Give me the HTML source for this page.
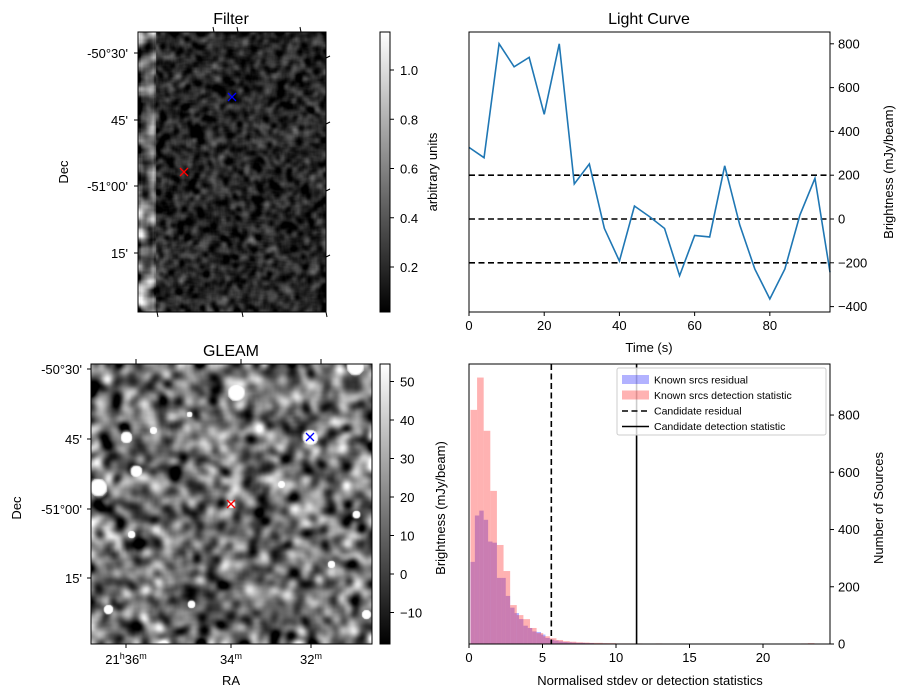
<!DOCTYPE html>
<html><head><meta charset="utf-8">
<style>
body{margin:0;background:#fff;}
#root{position:relative;width:907px;height:699px;overflow:hidden;font-family:"Liberation Sans","DejaVu Sans",sans-serif;}
svg{position:absolute;left:0;top:0;}
canvas{position:absolute;}
text{font-family:"Liberation Sans","DejaVu Sans",sans-serif;font-size:13px;fill:#000;}
</style></head>
<body>
<div id="root">
<canvas id="filterImg" width="188" height="280" style="left:138px;top:32px"></canvas>
<canvas id="gleamImg" width="281" height="280" style="left:91px;top:364px"></canvas>
<svg id="chart" width="907" height="699">
<defs>
<linearGradient id="gray1" x1="0" y1="1" x2="0" y2="0"><stop offset="0" stop-color="#000"/><stop offset="1" stop-color="#fff"/></linearGradient>
</defs>
</svg>
</div>
<script>
// ---- data ----
const lcTimes = [0,4,8,12,16,20,24,28,32,36,40,44,48,52,56,60,64,68,72,76,80,84,88,92,96];
const lcValues = [327,280,800,695,738,478,800,160,251,-43,-192,59,11,-43,-259,-75,-82,243,-27,-228,-365,-228,18,186,-243];
const lcThresholds = [200,0,-200];
const lcYTicks = [800,600,400,200,0,-200,-400];
const lcXTicks = [0,20,40,60,80];
const redBinStart = 0.1, redBinWidth = 0.45;
const redCounts = [818,931,745,535,346,255,136,101,87,56,38,27,20,14,10,8,6,5,4,4,3,3,2,2,2,2,1,1,2,1,1,1,1,1,1,0,1,1,0,1,0,1,0,1,0,0,1,0,0,1,2,3];
const blueBinStart = 0.1, blueBinWidth = 0.3;
const blueCounts = [287,449,466,434,358,354,231,231,168,127,108,87,64,56,44,42,33,21,15,12,9,7,6,5,4,4,3,3,2,2,2,1,1,1,1,1,1,1,0,1,0,0,1,0,0,1];
const histXTicks = [0,5,10,15,20];
const histYTicks = [0,200,400,600,800];
const candidateResidual = 5.6;
const candidateDetection = 11.4;
const filterCbTicks = [0.2,0.4,0.6,0.8,1.0];
const gleamCbTicks = [-10,0,10,20,30,40,50];

const NS="http://www.w3.org/2000/svg";
const svg=document.getElementById('chart');
function el(tag,attrs,parent){const e=document.createElementNS(NS,tag);for(const k in attrs)e.setAttribute(k,attrs[k]);(parent||svg).appendChild(e);return e;}
function txt(x,y,s,anchor,extra){const t=el('text',Object.assign({x:x,y:y,'text-anchor':anchor||'middle'},extra||{}));t.textContent=s;return t;}

// ---- light curve ----
const lcX=t=>469+t*(830-469)/96;
const lcY=v=>219-v*0.2190;
let g=el('g',{});


lcThresholds.forEach(v=>{const l=el('line',{x1:469,x2:830,y1:lcY(v),y2:lcY(v),stroke:'#000','stroke-width':1.6,'stroke-dasharray':'6,3.5'},g);

});
const pl=el('polyline',{points:lcTimes.map((t,i)=>lcX(t)+','+lcY(lcValues[i])).join(' '),fill:'none',stroke:'#1f77b4','stroke-width':1.6},g);


el('rect',{x:469,y:32,width:361,height:280,fill:'none',stroke:'#000','stroke-width':1},g);
lcYTicks.forEach(v=>{el('line',{x1:830,x2:834,y1:lcY(v),y2:lcY(v),stroke:'#000'},g);const t=txt(838,lcY(v)+4.5,String(v).replace('-','−'),'start',{});

});
lcXTicks.forEach(v=>{el('line',{x1:lcX(v),x2:lcX(v),y1:312,y2:316,stroke:'#000'},g);const t=txt(lcX(v),330,String(v));

});
let t1=txt(649,24,'Light Curve','middle',{style:'font-size:16px'});
let t2=txt(649,352,'Time (s)');
let t3=txt(0,0,'Brightness (mJy/beam)','middle',{transform:'translate(893,172) rotate(-90)'});

// ---- histogram ----
const hX=v=>469+v*14.7;
const hY=c=>644-c*0.2862;
g=el('g',{});


blueCounts.forEach((c,i)=>{if(!c)return;const x0=hX(blueBinStart+i*blueBinWidth);const r=el('rect',{x:x0,y:hY(c),width:hX(blueBinStart+(i+1)*blueBinWidth)-x0,height:644-hY(c),fill:'rgba(0,0,255,0.3)'},g);

});
redCounts.forEach((c,i)=>{if(!c)return;const x0=hX(redBinStart+i*redBinWidth);const r=el('rect',{x:x0,y:hY(c),width:hX(redBinStart+(i+1)*redBinWidth)-x0,height:644-hY(c),fill:'rgba(255,0,0,0.3)'},g);

});
let vl=el('line',{x1:hX(candidateResidual),x2:hX(candidateResidual),y1:364,y2:644,stroke:'#000','stroke-width':1.6,'stroke-dasharray':'6,3.5'},g);

vl=el('line',{x1:hX(candidateDetection),x2:hX(candidateDetection),y1:364,y2:644,stroke:'#000','stroke-width':1.6},g);

el('rect',{x:469,y:364,width:361,height:280,fill:'none',stroke:'#000'},g);
histYTicks.forEach(v=>{el('line',{x1:830,x2:834,y1:hY(v),y2:hY(v),stroke:'#000'},g);const t=txt(838,hY(v)+4.5,String(v),'start');
});
histXTicks.forEach(v=>{el('line',{x1:hX(v),x2:hX(v),y1:644,y2:648,stroke:'#000'},g);const t=txt(hX(v),662,String(v));
});
t1=txt(650,685,'Normalised stdev or detection statistics');
t1=txt(0,0,'Number of Sources','middle',{transform:'translate(883,508) rotate(-90)'});
t1=txt(0,0,'Brightness (mJy/beam)','middle',{transform:'translate(445,508) rotate(-90)'});
const lg=el('g',{},g);

el('rect',{x:617,y:368,width:209,height:67,fill:'rgba(255,255,255,0.8)',stroke:'#ccc',rx:2},lg);
const items=[['Known srcs residual','rgba(0,0,255,0.3)','patch'],['Known srcs detection statistic','rgba(255,0,0,0.3)','patch'],['Candidate residual','#000','dash'],['Candidate detection statistic','#000','solid']];
items.forEach((it,i)=>{const y=380+i*15.5;
if(it[2]==='patch')el('rect',{x:622,y:y-5,width:27,height:9,fill:it[1]},lg);
else el('line',{x1:622,x2:649,y1:y,y2:y,stroke:'#000','stroke-width':1.6,'stroke-dasharray':it[2]==='dash'?'6,3.5':'none'},lg);
const t=txt(654,y+3.5,it[0],'start',{style:'font-size:10.5px'});
});

// ---- Filter panel axes ----
g=el('g',{});

el('rect',{x:138,y:32,width:188,height:280,fill:'none',stroke:'#000'},g);
[['-50°30\'',53],['45\'',120],['-51°00\'',186],['15\'',253]].forEach(d=>{el('line',{x1:134,x2:138,y1:d[1],y2:d[1],stroke:'#000'},g);const t=txt(128,d[1]+5,d[0],'end');});
[58,124,191,257].forEach(y=>el('line',{x1:326,x2:330,y1:y,y2:y-2,stroke:'#000'},g));
[157,242,326].forEach(x=>el('line',{x1:x,x2:x+1,y1:312,y2:317,stroke:'#000'},g));
[213,237,300].forEach(x=>el('line',{x1:x,x2:x+1,y1:27,y2:32,stroke:'#000'},g));
t1=txt(231,24,'Filter','middle',{style:'font-size:16px'});
t1=txt(0,0,'Dec','middle',{transform:'translate(68,172) rotate(-90)'});
function cross(x,y,c,name){const p=el('path',{d:`M${x-4},${y-4}L${x+4},${y+4}M${x-4},${y+4}L${x+4},${y-4}`,stroke:c,'stroke-width':1.3});}
cross(232,97,'#00f','filter-candidate-marker');cross(184,172,'#f00','filter-source-marker');
el('rect',{x:380,y:32,width:10,height:280,fill:'url(#gray1)',stroke:'#000'},g);
const fcY=v=>267-(v-0.2)*(267-70)/0.8;
filterCbTicks.forEach(v=>{el('line',{x1:390,x2:394,y1:fcY(v),y2:fcY(v),stroke:'#000'},g);const t=txt(400,fcY(v)+5,v.toFixed(1),'start');});
t1=txt(0,0,'arbitrary units','middle',{transform:'translate(437,172) rotate(-90)'});

// ---- GLEAM panel axes ----
g=el('g',{});

el('rect',{x:91,y:364,width:281,height:280,fill:'none',stroke:'#000'},g);
[['-50°30\'',369],['45\'',439],['-51°00\'',509],['15\'',578]].forEach(d=>{el('line',{x1:87,x2:91,y1:d[1],y2:d[1],stroke:'#000'},g);const t=txt(82,d[1]+5,d[0],'end');});
[[126,'21'],[231,''],[311,'']].forEach((d,i)=>{const mm=['36','34','32'][i];el('line',{x1:d[0],x2:d[0],y1:644,y2:648,stroke:'#000'},g);el('line',{x1:d[0]+10,x2:d[0]+10,y1:359,y2:364,stroke:'#000'},g);
const t=el('text',{x:d[0],y:664,'text-anchor':'middle'},g);
t.innerHTML=(d[1]?d[1]+'<tspan dy="-5" style="font-size:9px">h</tspan><tspan dy="5">':'<tspan>')+mm+'</tspan><tspan dy="-5" style="font-size:9px">m</tspan>';
});
t1=txt(231,356,'GLEAM','middle',{style:'font-size:16px'});
t1=txt(231,685,'RA');
t1=txt(0,0,'Dec','middle',{transform:'translate(21,508) rotate(-90)'});
el('rect',{x:380,y:364,width:10,height:280,fill:'url(#gray1)',stroke:'#000'},g);
const gcY=v=>574-v*3.85;
gleamCbTicks.forEach(v=>{el('line',{x1:390,x2:394,y1:gcY(v),y2:gcY(v),stroke:'#000'},g);const t=txt(400,gcY(v)+5,String(v).replace('-','−'),'start');});

// ---- images (texture) ----
let seed=987654321;
function rnd(){seed|=0;seed=seed+0x6D2B79F5|0;let t=Math.imul(seed^seed>>>15,1|seed);t=t+Math.imul(t^t>>>7,61|t)^t;return((t^t>>>14)>>>0)/4294967296;}
function blur(a,w,h,r,passes){let b=new Float32Array(a.length);
for(let p=0;p<passes;p++){
for(let y=0;y<h;y++)for(let x=0;x<w;x++){let s=0,n=0;for(let k=-r;k<=r;k++){const xx=Math.min(w-1,Math.max(0,x+k));s+=a[y*w+xx];n++;}b[y*w+x]=s/n;}
for(let y=0;y<h;y++)for(let x=0;x<w;x++){let s=0,n=0;for(let k=-r;k<=r;k++){const yy=Math.min(h-1,Math.max(0,y+k));s+=b[yy*w+x];n++;}a[y*w+x]=s/n;}}
return a;}
function stats(a){let m=0;for(const v of a)m+=v;m/=a.length;let s=0;for(const v of a)s+=(v-m)*(v-m);return [m,Math.sqrt(s/a.length)];}
function paint(id,w,h,fn){const ctx=document.getElementById(id).getContext('2d');const im=ctx.createImageData(w,h);
for(let j=0;j<h;j++)for(let i=0;i<w;i++){const v=Math.max(0,Math.min(255,fn(i,j)));const k=(j*w+i)*4;im.data[k]=im.data[k+1]=im.data[k+2]=v;im.data[k+3]=255;}ctx.putImageData(im,0,0);}
// filter
(function(){const w=188,h=280;let a=new Float32Array(w*h);for(let i=0;i<a.length;i++)a[i]=rnd();blur(a,w,h,2,2);const [m,s]=stats(a);
let b=new Float32Array(w*h);for(let i=0;i<b.length;i++)b[i]=rnd();blur(b,w,h,4,2);const [m2,s2]=stats(b);
paint('filterImg',w,h,(i,j)=>{let z=(a[j*w+i]-m)/s;let v=38+z*22;
if(i<18){v=120+(b[j*w+i]-m2)/s2*55+(i<3||i>15?-30:0);}return v;});})();
// gleam
(function(){const w=281,h=280;let a=new Float32Array(w*h);for(let i=0;i<a.length;i++)a[i]=rnd();blur(a,w,h,3,3);const [m,s]=stats(a);
const blobs=[[145,28,9],[35,73,6],[7,123,9],[219,73,8],[264,2,9],[45,107,6],[62,66,4],[98,50,3],[140,140,4],[17,245,5],[275,250,5],[265,150,4],[190,120,4],[100,240,4],[240,200,4],[40,170,4]];
paint('gleamImg',w,h,(i,j)=>{let v=110+(a[j*w+i]-m)/s*48;
for(const b of blobs){const d=Math.hypot(i-b[0],j-b[1]);if(d<b[2]*1.5)v=Math.max(v,255*Math.exp(-Math.pow(d/b[2],4)*0.7)+(d<b[2]?60:0));}
return v;});})();
cross(310,437,'#00f','gleam-candidate-marker');cross(231,504,'#f00','gleam-source-marker');
</script>
</body></html>
